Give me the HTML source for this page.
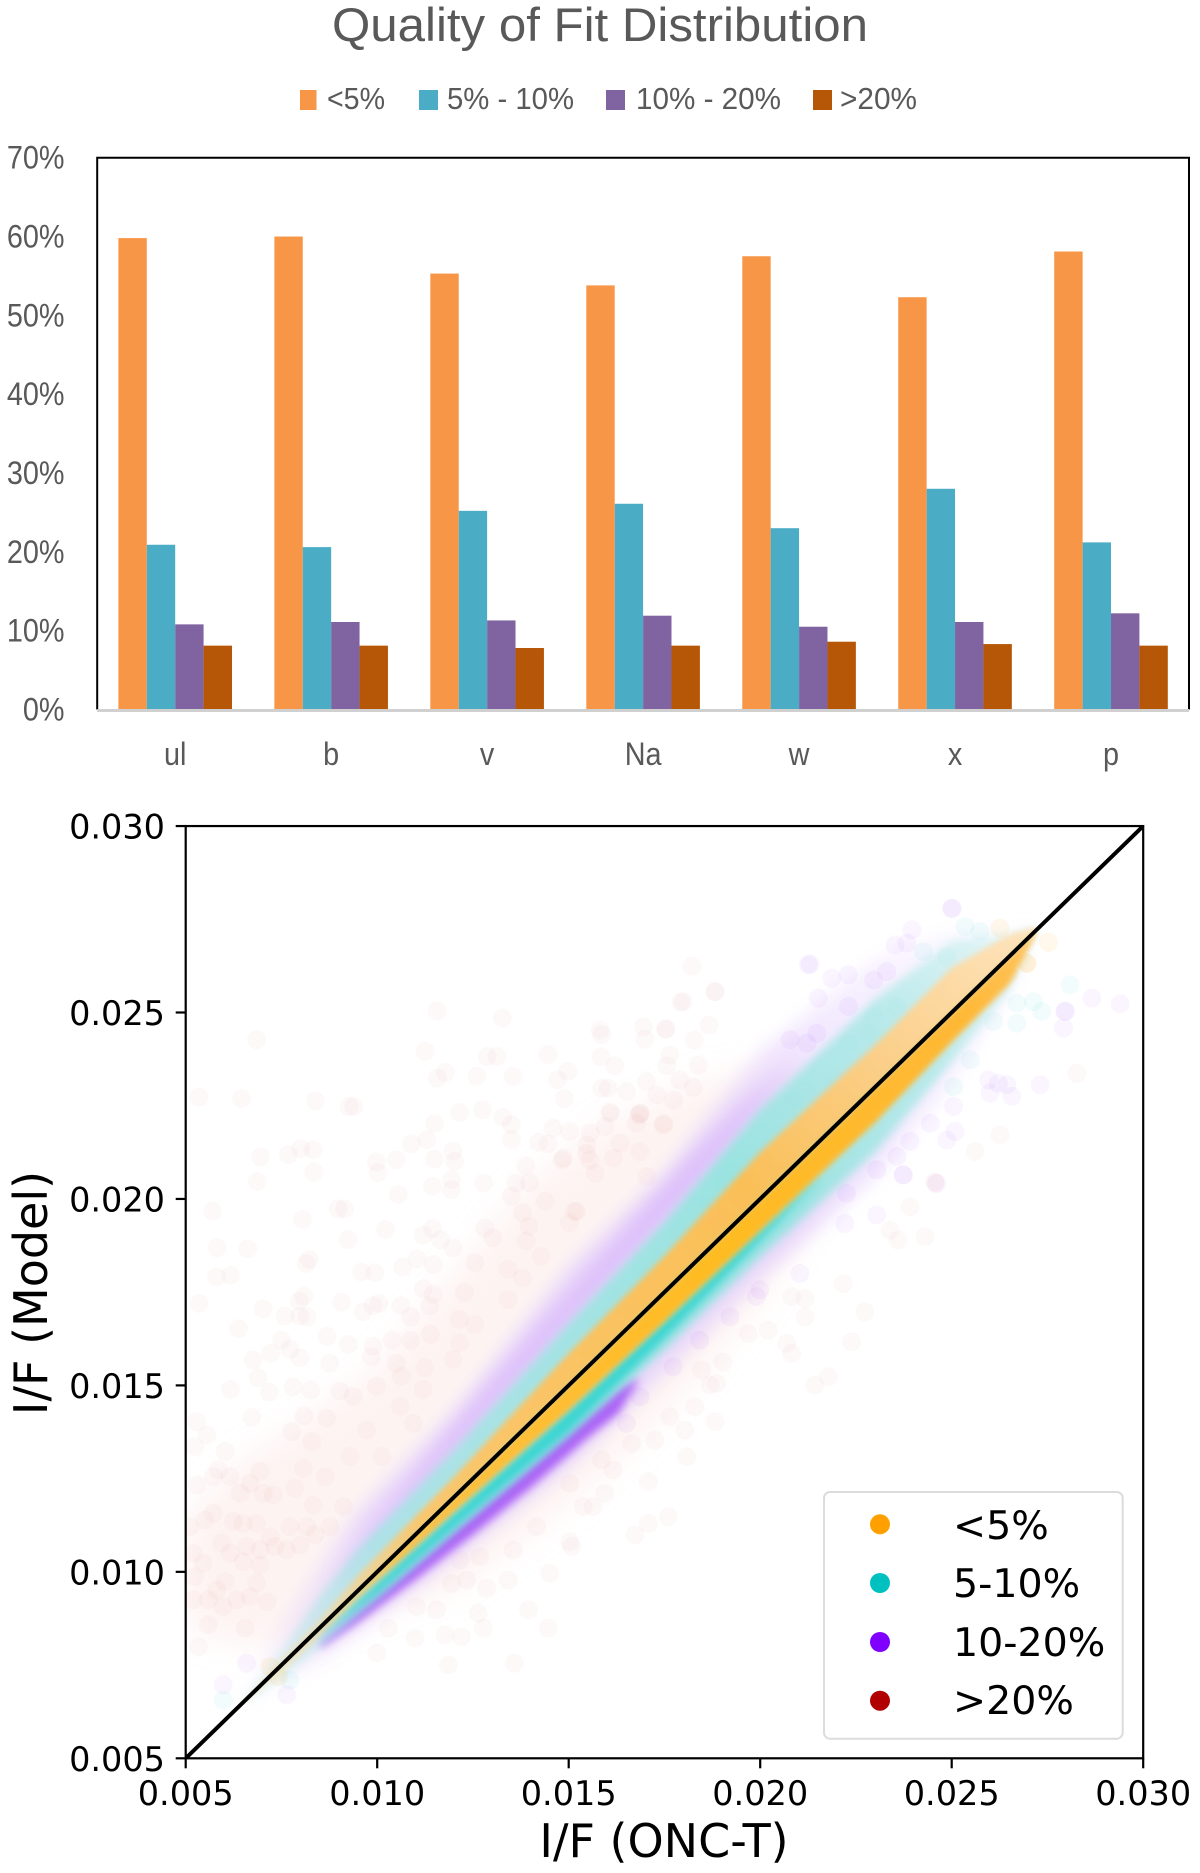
<!DOCTYPE html>
<html lang="en">
<head>
<meta charset="utf-8">
<title>Quality of Fit Distribution and I/F comparison</title>
<style>
html,body{margin:0;padding:0;background:#fff;}
svg{display:block;}
.cal{font-family:"Liberation Sans",sans-serif;fill:#595959;}
.dj{font-family:"DejaVu Sans",sans-serif;fill:#000;}
</style>
</head>
<body>
<svg id="fig" xmlns="http://www.w3.org/2000/svg" width="1200" height="1873" viewBox="0 0 1200 1873">
<defs>
<filter id="b3" filterUnits="userSpaceOnUse" x="100" y="760" width="1100" height="1050"><feGaussianBlur stdDeviation="3"/></filter>
<filter id="b4" filterUnits="userSpaceOnUse" x="100" y="760" width="1100" height="1050"><feGaussianBlur stdDeviation="4.5"/></filter>
<filter id="b5" filterUnits="userSpaceOnUse" x="100" y="760" width="1100" height="1050"><feGaussianBlur stdDeviation="9"/></filter>
<filter id="b12" filterUnits="userSpaceOnUse" x="100" y="760" width="1100" height="1050"><feGaussianBlur stdDeviation="16"/></filter>
<clipPath id="plotClip"><rect x="185.7" y="826.7" width="956.8" height="931.6"/></clipPath>
<linearGradient id="orangeUpGrad" gradientUnits="userSpaceOnUse" x1="186" y1="1758" x2="1143" y2="827">
<stop offset="0.08" stop-color="#FFE3B5" stop-opacity="0.5"/><stop offset="0.25" stop-color="#FFC566"/><stop offset="0.6" stop-color="#FFBD50"/><stop offset="0.74" stop-color="#FFCE85"/><stop offset="0.88" stop-color="#FFE2B8"/>
</linearGradient>
<linearGradient id="orangeDownGrad" gradientUnits="userSpaceOnUse" x1="186" y1="1758" x2="1143" y2="827">
<stop offset="0.08" stop-color="#FFE0AA" stop-opacity="0.5"/><stop offset="0.22" stop-color="#FFC040"/><stop offset="0.55" stop-color="#FFBB22"/><stop offset="0.8" stop-color="#FFB835"/><stop offset="0.9" stop-color="#FFC565"/>
</linearGradient>
<linearGradient id="tealGrad" gradientUnits="userSpaceOnUse" x1="186" y1="1758" x2="1143" y2="827">
<stop offset="0.08" stop-color="#9FE6E2" stop-opacity="0.25"/><stop offset="0.22" stop-color="#9FE6E2" stop-opacity="0.8"/><stop offset="0.6" stop-color="#96E4E0" stop-opacity="0.95"/><stop offset="0.76" stop-color="#A5E8E4" stop-opacity="0.75"/><stop offset="0.88" stop-color="#C2F0ED" stop-opacity="0.4"/>
</linearGradient>
<linearGradient id="purpleGrad" gradientUnits="userSpaceOnUse" x1="186" y1="1758" x2="1143" y2="827">
<stop offset="0.08" stop-color="#E6D2FC" stop-opacity="0.15"/><stop offset="0.22" stop-color="#E6D2FC" stop-opacity="0.85"/><stop offset="0.6" stop-color="#E6D2FC" stop-opacity="0.85"/><stop offset="0.76" stop-color="#EDE0FD" stop-opacity="0.55"/><stop offset="0.88" stop-color="#F3EAFE" stop-opacity="0.25"/>
</linearGradient>
</defs>

<g id="barChart">
<text class="cal" x="600" y="41" text-anchor="middle" font-size="47" textLength="536" lengthAdjust="spacingAndGlyphs">Quality of Fit Distribution</text>
<g>
<rect x="300" y="90" width="16.5" height="20" fill="#F79646"/>
<text class="cal" x="327" y="109" font-size="31" textLength="58" lengthAdjust="spacingAndGlyphs">&lt;5%</text>
<rect x="419" y="90" width="19" height="20" fill="#4BACC6"/>
<text class="cal" x="447" y="109" font-size="31" textLength="127" lengthAdjust="spacingAndGlyphs">5% - 10%</text>
<rect x="606" y="90" width="19" height="20" fill="#8064A2"/>
<text class="cal" x="636" y="109" font-size="31" textLength="145" lengthAdjust="spacingAndGlyphs">10% - 20%</text>
<rect x="813" y="90" width="19" height="20" fill="#B65708"/>
<text class="cal" x="840" y="109" font-size="31" textLength="77" lengthAdjust="spacingAndGlyphs">&gt;20%</text>
</g>
<g id="barMarks"></g>
<g id="barAxes"></g>
</g>

<g id="scatterChart">
<g id="scatterMarks" clip-path="url(#plotClip)"></g>
<g id="scatterAxes"></g>
<text class="dj" x="664" y="1857" text-anchor="middle" font-size="46">I/F (ONC-T)</text>
<text class="dj" transform="translate(47,1293) rotate(-90)" text-anchor="middle" font-size="46">I/F (Model)</text>
<g>
<rect x="824" y="1492" width="298.7" height="246.7" rx="6" fill="#fff" fill-opacity="0.85" stroke="#dcdcdc" stroke-width="2"/>
<circle cx="880" cy="1524.3" r="10" fill="#FFA000"/>
<text class="dj" x="953" y="1539" font-size="39.5">&lt;5%</text>
<circle cx="880" cy="1583" r="10" fill="#00C0C0"/>
<text class="dj" x="953" y="1597" font-size="39.5">5-10%</text>
<circle cx="880" cy="1642" r="10" fill="#7F00FF"/>
<text class="dj" x="953" y="1656" font-size="39.5">10-20%</text>
<circle cx="880" cy="1700.7" r="10" fill="#B00000"/>
<text class="dj" x="953" y="1714" font-size="39.5">&gt;20%</text>
</g>
</g>
</svg>

<script>
/* ---------- bar chart data (percent) ---------- */
const categories = ['ul','b','v','Na','w','x','p'];
const under5 = [59.8,60.0,55.3,53.8,57.5,52.3,58.1];
const from5to10 = [20.9,20.6,25.2,26.1,23.0,28.0,21.2];
const from10to20 = [10.8,11.1,11.3,11.9,10.5,11.1,12.2];
const over20 = [8.1,8.1,7.8,8.1,8.6,8.3,8.1];
const barTickValues = [0,10,20,30,40,50,60,70];
const barTickLabels = ['0%','10%','20%','30%','40%','50%','60%','70%'];

/* ---------- scatter data (I/F x 1000) ---------- */
const xTickValues = [5,10,15,20,25,30];
const yTickValues = [5,10,15,20,25,30];
const xTickLabels = ['0.005','0.010','0.015','0.020','0.025','0.030'];
const yTickLabels = ['0.005','0.010','0.015','0.020','0.025','0.030'];
const lineX = [5,30];
const lineY = [5,30];

/* density bands: model minus ONC-T at each bandX */
const bandX = [6.5,7.5,8.5,9.5,12,15,17.5,20,23,25,26.5,27.2];
const bandZero = [0,0,0,0,0,0,0,0,0,0,0,0];
const orangeUp = [.03,.16,.21,.40,.54,.86,.97,1.26,1.13,1.2,.6,.1];
const orangeDown = [-.03,-.21,-.19,-.21,-.40,-.67,-.8,-.85,-.95,-.8,-.75,-.1];
const tealUp = [.05,.38,.86,1.13,1.26,1.66,1.88,2.41,2.36,1.93,.6,.1];
const tealDown = [-.05,-.38,-.54,-.67,-.94,-1.34,-1.56,-1.56,-1.74,-1.34,-.95,-.1];
const purpleUp = [.08,1.07,1.61,2.09,2.28,3.16,3.16,3.94,3.43,2.2,.7,.1];
const purpleDown = [-.08,-.48,-.94,-1.13,-1.66,-2.20,-2.15,-2.15,-2.41,-1.88,-1.1,-.1];

const redBandX = [5,6.5,8,10,12,14,16,18,20,22];
const redBandUp = [6.5,6.5,6,5.5,6,6.5,6,5,3.5,1];
const redBandDown = [3.5,1.5,0,-1,-2.5,-3,-3.3,-3.2,-2.8,-1];

const coreX = [8.5,9.5,11,12.5,14,15.5,16.3,16.8];
const coreTop = [-.4,-.5,-.7,-.9,-1.1,-1.25,-1.35,-1.6];
const coreBottom = [-.55,-.85,-1.2,-1.5,-1.75,-1.9,-2.05,-1.7];

const patchX = [9,10,12,14,16,18,19.5,21];
const patchTop = [.9,1.3,1.9,2.3,2.6,2.9,3.0,2.8];
const patchBottom = [.8,.9,1.2,1.5,1.8,2.0,2.3,2.75];

const tealCoreX = [8.5,10,12,15,17.5,19.5,21.5];
const tealCoreTop = [-.2,-.25,-.4,-.65,-.75,-.8,-.95];
const tealCoreBottom = [-.25,-.6,-.85,-1.25,-1.25,-1.15,-1.0];

/* individually visible points */
const redX = [6.85,5.35,6.46,8.39,9.26,9.39,11.57,13.27,11.25,14.46,12.87,13.13,11.57,11.78,12.6,13.55,14.71,14.98,14.89,12.15,12.75,13.28,13.5,11.5,11.3,10.89,14.59,15.02,13.51,14.22,14.46,11.98,12.02,11.5,10.5,9.98,10.02,6.95,7.68,8.0,8.33,8.35,6.87,10.55,11.44,11.94,11.94,12.78,13.88,14.82,13.63,13.98,13.5,14.39,13.79,5.7,8.05,8.98,9.15,10.22,9.24,11.2,11.44,11.65,12.81,13.02,13.96,13.89,15.15,15.02,5.82,6.62,8.14,8.22,5.81,6.17,9.59,9.94,10.66,11.04,11.46,11.98,12.55,14.28,13.79,13.42,11.2,11.46,12.28,13.42,5.35,7.02,8.08,7.96,7.59,7.98,8.17,9.07,9.63,9.89,10.05,10.61,10.87,11.37,6.38,12.14,12.55,8.69,7.5,7.72,7.22,7.98,6.76,9.24,9.89,9.85,10.39,10.87,11.39,12.15,8.76,10.5,11.24,11.98,6.89,6.17,7.18,7.81,8.26,9.02,9.37,9.98,11.2,10.63,
15.82,15.86,16.95,16.99,17.54,17.99,18.82,18.66,18.28,17.64,17.56,18.39,15.84,16.2,15.86,16.03,16.51,17.03,17.9,18.25,17.3,17.74,16.08,16.86,15.95,16.77,17.47,16.34,16.86,15.47,15.56,16.17,15.69,17.04,15.47,16.87,17.48,16.08,15.56,15.21,14.86,18.22,18.82,17.93,17.53,16.83,
6.72,8.09,7.77,5.29,5.55,5.24,6.03,8.29,9.29,10.12,10.94,9.72,8.68,10.6,6.16,5.85,6.94,7.85,8.64,8.07,7.29,6.42,8.33,5.29,9.12,5.5,6.5,6.24,6.85,8.38,8.77,5.94,7.33,7.63,7.98,6.94,6.5,5.46,6.03,5.24,5.2,5.59,5.98,6.33,6.68,7.13,5.59,6.55,5.33,5.72,6.68,7.03,5.72,7.72,7.2,6.59,8.16,6.16,6.94,5.11,5.2,5.81,6.85,
11.03,11.55,10.29,9.99,10.99,11.77,12.2,11.86,12.64,12.77,13.95,14.47,13.58,13.55,14.51,14.16,15.08,11.94,12.86,13.42,12.34,12.16,12.68,
24.56,23.91,23.39,23.6,24.3,22.17,22.73,21.17,20.82,21.17,22.39,20.69,20.82,21.78,21.43,20.21,19.69,19.03,18.47,18.86,18.69,18.29,18.82,18.03,17.25,16.64,18.08,17.64,17.08,16.16,15.86,15.03,15.94,15.64,15.38,17.6,17.08,16.73,15.03,28.27,26.26,25.61,24.57];
const redY = [24.27,22.73,22.69,22.63,22.48,22.48,25.05,24.85,23.96,23.87,23.82,23.82,23.24,23.39,23.29,23.29,23.2,23.42,22.69,22.32,22.39,22.19,21.99,22.02,21.59,21.48,21.9,21.81,21.59,21.52,21.48,21.28,21.01,21.07,21.05,20.99,20.7,21.13,21.19,21.35,21.32,20.72,20.47,20.12,20.34,20.52,20.25,20.43,20.89,21.04,20.43,20.43,20.07,19.94,19.63,19.67,19.45,19.73,19.73,19.18,18.91,19.03,19.2,18.9,19.22,18.96,19.27,18.87,19.67,19.36,18.69,18.66,18.27,18.38,17.91,17.95,18.04,18.02,18.17,18.39,18.24,18.69,18.29,18.46,17.88,18.11,17.59,17.44,17.5,17.3,17.2,17.05,17.39,17.26,16.86,16.86,16.84,17.23,16.97,17.14,17.2,17.14,16.84,17.13,16.52,16.77,16.63,16.32,16.21,15.97,15.86,15.74,15.68,16.1,16.05,15.77,16.21,16.21,16.37,16.14,15.59,15.59,15.47,15.7,15.2,14.89,14.82,14.96,14.88,14.85,14.71,14.98,14.89,15.25,
24.53,24.4,24.62,24.28,24.56,25.29,25.56,24.66,24.26,23.86,23.57,23.59,23.81,23.57,22.97,22.97,22.88,23.15,23.19,22.99,22.79,22.65,22.34,22.3,21.94,22.03,21.98,21.49,21.27,21.45,21.04,21.09,20.69,20.6,21.22,22.29,22.02,22.29,21.76,19.66,21.09,26.24,25.56,25.28,24.55,22.24,
14.14,14.18,13.76,14.03,13.67,13.36,13.23,13.49,13.09,13.09,13.98,13.8,14.12,14.43,12.55,12.73,12.69,12.24,12.55,12.78,12.06,12.11,11.79,12.33,11.75,11.39,11.3,11.35,11.3,10.99,11.21,10.77,10.68,10.59,10.72,10.18,10.27,10.23,9.74,9.87,9.25,9.25,9.07,9.25,9.33,9.2,8.58,8.49,7.99,12.55,12.37,12.1,11.57,11.21,10.94,10.68,11.21,10.5,10.59,11.21,10.5,9.51,9.7,
9.07,8.98,8.49,7.82,8.22,8.31,8.26,7.5,8.89,8.49,8.98,8.49,7.55,10.59,9.96,11.21,10.68,9.69,9.56,9.78,9.78,10.32,10.41,
20.46,19.79,19.16,18.9,18.99,17.73,16.97,16.84,17.38,17.33,16.17,16.13,15.86,15.23,15.01,16.48,16.39,15.63,15.41,15.05,15.01,14.43,14.02,13.8,13.53,13.44,13.09,14.16,12.42,12.73,13,12.37,12.1,11.75,11.75,11.48,11.3,10.99,10.81,23.37,21.72,21.27,20.42];

const purpleX = [25,23.83,23.96,23.52,21.26,22.3,21.87,22.96,23.3,22.3,21.52,20.78,21.22,21.48,27.96,27.96,28.66,29.4,27.92,27.31,25.96,26.22,26.44,26.57,26,25.05,24.44,25.09,24.87,23.91,23.57,23.74,23.04,24.61,21.04,22.21,23.04,23.73,22.25,19.21,19.9,19.99,18.42,17.73,16.86,16.51,6.59,5.98,7.64,21.3,25.01];
const purpleY = [27.8,26.86,27.22,26.81,26.28,26.01,25.92,25.87,26.1,25.16,25.38,24.27,24.18,24.44,25.03,25.03,25.38,25.23,24.58,23.06,23.19,23.1,23.06,22.75,22.84,22.48,22.03,21.81,21.58,21.54,21.14,20.65,20.78,20.42,18,19.34,19.57,20.64,20.15,16.84,17.38,17.56,16.21,15.5,14.7,13.98,7.55,6.97,6.7,26.3,27.78];

const tealX = [25.35,25.74,24.87,24.26,23.57,22.96,22.3,22.83,21.91,20.87,28.09,26.7,27.13,27.35,26.7,26.09,25.48,25.05,5.98,7.72];
const tealY = [27.3,27.17,26.5,26.63,25.16,24.89,24.18,24.44,23.06,22.66,25.74,25.25,25.29,25.03,24.71,24.76,23.73,23.01,6.56,7.1];

const orangeX = [26.26,27.53,26.96,26.96,26.5,7.2,7.42];
const orangeY = [27.26,26.88,26.32,26.32,26.05,7.46,7.19];

/* ---------- helpers ---------- */
const NS = 'http://www.w3.org/2000/svg';
function mk(tag, attrs, parent, txt){
  const e = document.createElementNS(NS, tag);
  for (const k in attrs) e.setAttribute(k, attrs[k]);
  if (txt !== undefined) e.textContent = txt;
  parent.appendChild(e);
  return e;
}

/* ---------- bar chart ---------- */
const barLeft = 97.2, barRight = 1189, barTop = 157.7, barBottom = 709.5, barMax = 70;
const yBar = v => barBottom - v / barMax * (barBottom - barTop);
const groupW = (barRight - barLeft) / categories.length;
const xGroup = i => barLeft + groupW * i;
const barW = 28.4;
const barSeries = [
  {name:'under-5', vals:under5, color:'#F79646'},
  {name:'5-to-10', vals:from5to10, color:'#4BACC6'},
  {name:'10-to-20', vals:from10to20, color:'#8064A2'},
  {name:'over-20', vals:over20, color:'#B65708'}
];
const barMarks = document.getElementById('barMarks');
barSeries.forEach((s, si) => {
  s.vals.forEach((v, i) => {
    const r = mk('rect', {x: xGroup(i) + (groupW - 4 * barW) / 2 + si * barW, y: yBar(v), width: barW, height: barBottom - yBar(v), fill: s.color}, barMarks);
    
    
  });
});
const barAxes = document.getElementById('barAxes');
const frame = mk('path', {d: 'M' + barLeft + ' ' + barBottom + 'V' + barTop + 'H' + barRight + 'V' + barBottom, fill: 'none', stroke: '#000', 'stroke-width': 2}, barAxes);


const baseLine = mk('line', {x1: barLeft, x2: barRight, y1: barBottom + 1, y2: barBottom + 1, stroke: '#d0d0d0', 'stroke-width': 3}, barAxes);


barTickValues.forEach((v, i) => {
  const t = mk('text', {class: 'cal', transform: 'translate(64.5,' + (yBar(v) + 11) + ') scale(0.9,1)', 'text-anchor': 'end', 'font-size': 32}, barAxes, barTickLabels[i]);
  
  
});
categories.forEach((c, i) => {
  const t = mk('text', {class: 'cal', transform: 'translate(' + (xGroup(i) + groupW / 2) + ',765) scale(0.9,1)', 'text-anchor': 'middle', 'font-size': 32}, barAxes, c);
  
  
});

/* ---------- scatter chart ---------- */
const xS = v => 185.7 + (v - 5) * 38.3;
const yS = v => 1758.3 - (v - 5) * 37.29;
const marks = document.getElementById('scatterMarks');

function ribbon(name, xs, up, down, fill, opacity, filter){
  const top = xs.map((x, i) => xS(x).toFixed(1) + ',' + yS(x + up[i]).toFixed(1));
  const bot = xs.map((x, i) => xS(x).toFixed(1) + ',' + yS(x + down[i]).toFixed(1)).reverse();
  const p = mk('polygon', {points: top.concat(bot).join(' '), fill: fill, 'fill-opacity': opacity, filter: 'url(#' + filter + ')'}, marks);
  
  
}
function dots(name, xs, ys, color, opacity){
  xs.forEach((x, i) => {
    const c = mk('circle', {cx: xS(x).toFixed(1), cy: yS(ys[i]).toFixed(1), r: 9.5, fill: color, 'fill-opacity': opacity}, marks);
    
    
  });
}

ribbon('red-density-band', redBandX, redBandUp, redBandDown, '#F3C8C0', 0.2, 'b12');
dots('red-point', redX, redY, '#B00000', 0.025);
ribbon('purple-density-band', bandX, purpleUp, purpleDown, 'url(#purpleGrad)', 1, 'b5');
ribbon('purple-upper-patch', patchX, patchTop, patchBottom, '#D2ACFA', 0.6, 'b5');
dots('purple-point', purpleX, purpleY, '#7F00FF', 0.04);
ribbon('purple-lower-core', coreX, coreTop, coreBottom, '#A04CF6', 0.85, 'b4');
dots('teal-point', tealX, tealY, '#00C0C0', 0.05);
ribbon('teal-density-band', bandX, tealUp, tealDown, 'url(#tealGrad)', 1, 'b4');
ribbon('teal-lower-core', tealCoreX, tealCoreTop, tealCoreBottom, '#2CD4CF', 0.9, 'b4');
dots('orange-point', orangeX, orangeY, '#FFA000', 0.08);
ribbon('orange-upper-band', bandX, orangeUp, bandZero, 'url(#orangeUpGrad)', 0.95, 'b3');
ribbon('orange-lower-band', bandX, bandZero, orangeDown, 'url(#orangeDownGrad)', 1, 'b3');

const unity = mk('line', {x1: xS(lineX[0]), y1: yS(lineY[0]), x2: xS(lineX[1]), y2: yS(lineY[1]), stroke: '#000', 'stroke-width': 4}, marks);



const axes = document.getElementById('scatterAxes');
const box = mk('rect', {x: xS(5), y: yS(30), width: xS(30) - xS(5), height: yS(5) - yS(30), fill: 'none', stroke: '#000', 'stroke-width': 2.2}, axes);


xTickValues.forEach((v, i) => {
  const l = mk('line', {x1: xS(v), x2: xS(v), y1: yS(5), y2: yS(5) + 10, stroke: '#000', 'stroke-width': 2.2}, axes);
  
  
  const t = mk('text', {class: 'dj', x: xS(v), y: 1805, 'text-anchor': 'middle', 'font-size': 33.5}, axes, xTickLabels[i]);
  
  
});
yTickValues.forEach((v, i) => {
  const l = mk('line', {x1: xS(5) - 10, x2: xS(5), y1: yS(v), y2: yS(v), stroke: '#000', 'stroke-width': 2.2}, axes);
  
  
  const t = mk('text', {class: 'dj', x: 165, y: yS(v) + 12.5, 'text-anchor': 'end', 'font-size': 33.5}, axes, yTickLabels[i]);
  
  
});
</script>
</body>
</html>
